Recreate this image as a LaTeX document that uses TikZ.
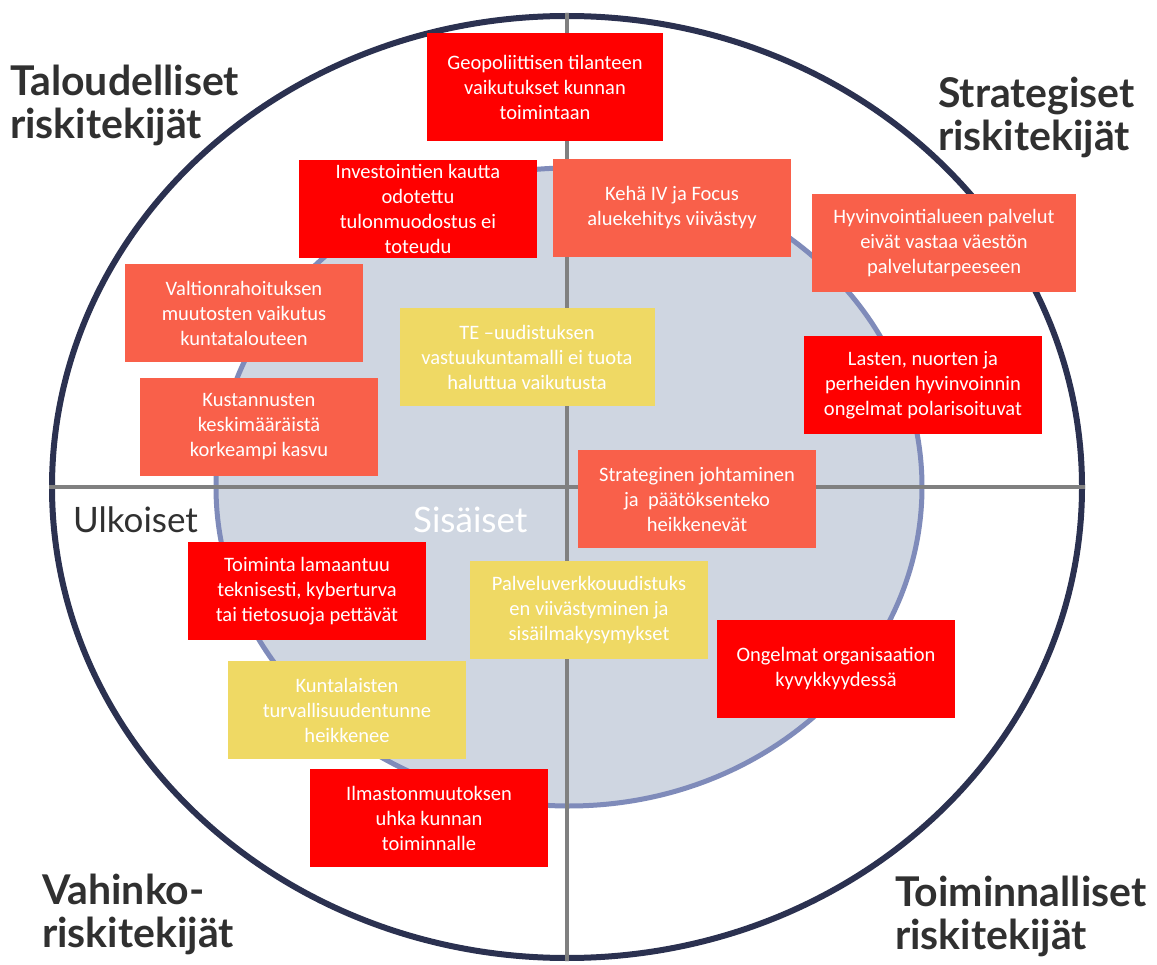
\documentclass[tikz,border=0pt]{standalone}
\usepackage{fontspec}
\usetikzlibrary{shapes.geometric}
\newfontfamily\boxfont{Carlito}
\newfontfamily\headfont{Lato}
\definecolor{riskred}{HTML}{FF0000}
\definecolor{risksalmon}{HTML}{F9604A}
\definecolor{riskyellow}{HTML}{EFD964}
\definecolor{corefill}{HTML}{CFD6E1}
\definecolor{coreline}{HTML}{7F8BBA}
\definecolor{ringline}{HTML}{2B3150}
\definecolor{axisgray}{HTML}{808080}
\definecolor{headgray}{HTML}{303030}

\begin{document}
\begin{tikzpicture}[x=1pt,y=-1pt,
  riskbox/.style={minimum width=238pt,minimum height=98pt,inner sep=0pt,
    align=center,text=white,font=\boxfont\fontsize{20.5}{25}\selectfont},
  redrisk/.style={riskbox,fill=riskred},
  salmonrisk/.style={riskbox,fill=risksalmon},
  yellowrisk/.style={riskbox,fill=riskyellow},
  corner/.style={anchor=north west,align=left,inner sep=0pt,text=headgray,
    font=\headfont\bfseries\fontsize{41}{43}\selectfont},
  side/.style={anchor=base west,inner sep=0pt,font=\headfont\fontsize{35}{40}\selectfont}]
\useasboundingbox (0,0) rectangle (1157,965);

% rings
\node (outer) [ellipse,draw=ringline,line width=6pt,fill=white,
  minimum width=1030pt,minimum height=942pt,inner sep=0pt] at (567,487) {};
\node (core) [ellipse,draw=coreline,line width=5pt,fill=corefill,
  minimum width=706pt,minimum height=638pt,inner sep=0pt] at (569,487) {};
\draw [axisgray,line width=4pt] (outer.north) -- (outer.south);
\draw [axisgray,line width=4pt] (outer.west) -- (outer.east);

% quadrant titles
\node (talous) [corner] at (10,65) {Taloudelliset\\riskitekijät};
\node (strat) [corner] at (938,77) {Strategiset\\riskitekijät};
\node (vahinko) [corner] at (42,874) {Vahinko-\\riskitekijät};
\node (toimin) [corner] at (895,876) {Toiminnalliset\\riskitekijät};
\node (ulko) [side,text=headgray] at (73,532) {Ulkoiset};
\node (sisa) [side,text=white] at (413,532) {Sisäiset};

% risks
\node (geo) [redrisk,minimum width=236pt,minimum height=108pt] at (545,87)
  {Geopoliittisen tilanteen\\vaikutukset kunnan\\toimintaan};
\node (inv) [redrisk] at (418,209)
  {Investointien kautta\\odotettu\\tulonmuodostus ei\\toteudu};
\node (keha) [salmonrisk] at (672,208)
  {Kehä IV ja Focus\\aluekehitys viivästyy};
\node (hyv) [salmonrisk,minimum width=264pt] at (944,243)
  {Hyvinvointialueen palvelut\\eivät vastaa väestön\\palvelutarpeeseen};
\node (valt) [salmonrisk] at (244,313)
  {Valtionrahoituksen\\muutosten vaikutus\\kuntatalouteen};
\node (te) [yellowrisk,minimum width=255pt] at (527,357)
  {TE –uudistuksen\\vastuukuntamalli ei tuota\\haluttua vaikutusta};
\node (lasten) [redrisk] at (923,385)
  {Lasten, nuorten ja\\perheiden hyvinvoinnin\\ongelmat polarisoituvat};
\node (kust) [salmonrisk] at (259,427)
  {Kustannusten\\keskimääräistä\\korkeampi kasvu};
\node (johto) [salmonrisk] at (697,499)
  {Strateginen johtaminen\\ja\ \ päätöksenteko\\heikkenevät};
\node (tekn) [redrisk] at (307,591)
  {Toiminta lamaantuu\\teknisesti, kyberturva\\tai tietosuoja pettävät};
\node (palv) [yellowrisk] at (589,610)
  {Palveluverkkouudistuks\\en viivästyminen ja\\sisäilmakysymykset};
\node (ong) [redrisk] at (836,669)
  {Ongelmat organisaation\\kyvykkyydessä};
\node (kunta) [yellowrisk] at (347,710)
  {Kuntalaisten\\turvallisuudentunne\\heikkenee};
\node (ilmasto) [redrisk] at (429,818)
  {Ilmastonmuutoksen\\uhka kunnan\\toiminnalle};
\end{tikzpicture}
\end{document}
